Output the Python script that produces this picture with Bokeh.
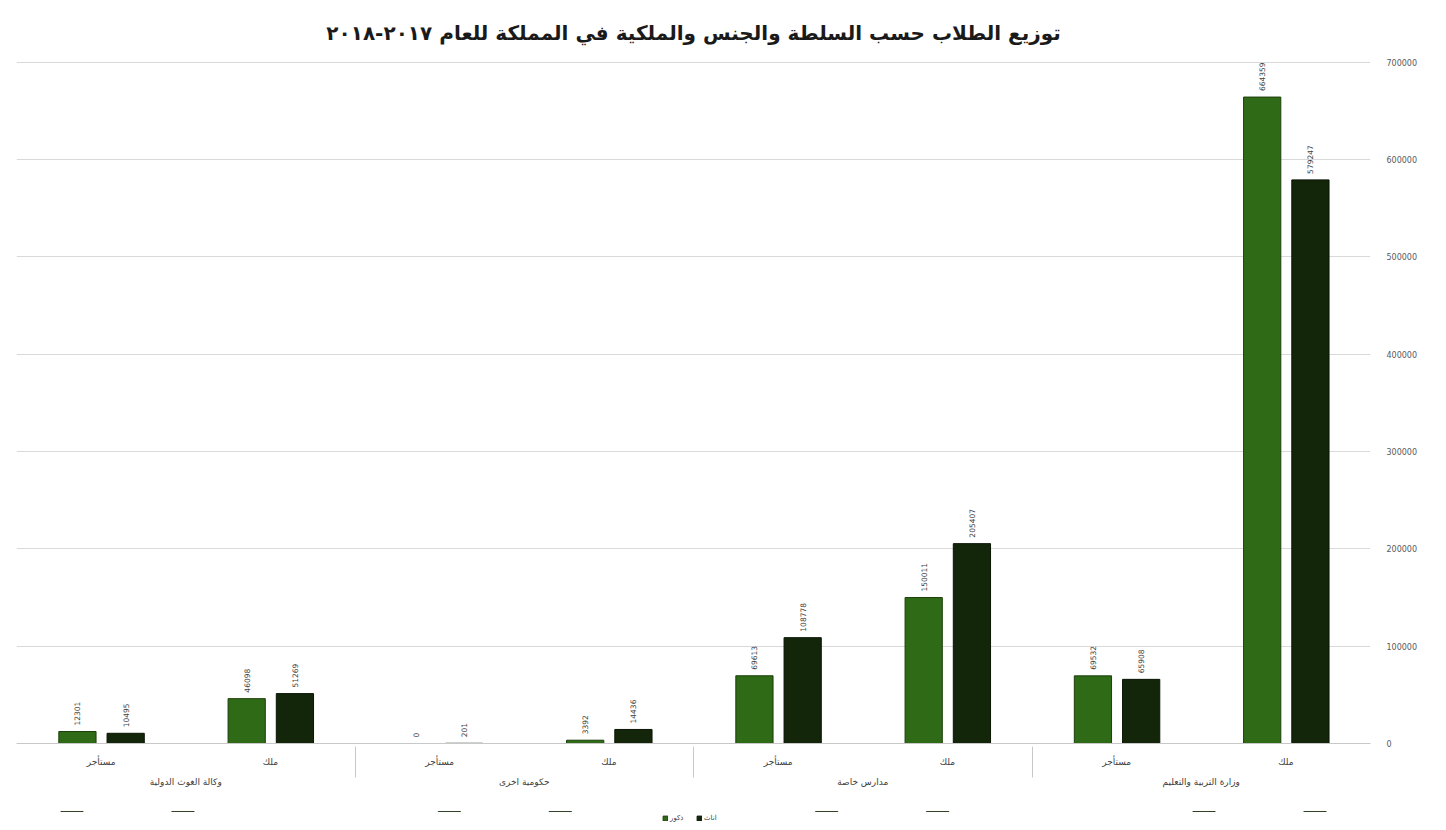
import math
from bokeh.plotting import figure
from bokeh.layouts import column
from bokeh.models import (FactorRange, ColumnDataSource, FixedTicker,
                          NumeralTickFormatter, Legend, LegendItem)
from bokeh.transform import dodge
from bokeh.core.properties import value
from bokeh.embed import file_html
from bokeh.resources import INLINE

title_text = "توزيع الطلاب حسب السلطة والجنس والملكية في المملكة للعام ٢٠١٧-٢٠١٨"
authorities = ["وكالة الغوث الدولية", "حكومية اخرى", "مدارس خاصة", "وزارة التربية والتعليم"]
ownership = ["مستأجر", "ملك"]
series_names = ["ذكور", "اناث"]
males = [12301, 46098, 0, 3392, 69613, 150011, 69532, 664359]
females = [10495, 51269, 201, 14436, 108778, 205407, 65908, 579247]
y_ticks = [0, 100000, 200000, 300000, 400000, 500000, 600000, 700000]

FONT = "DejaVu Sans"
GREEN = "#2f6a16"
GREEN_LINE = "#1c3f0b"
DARK = "#13260a"
DARK_LINE = "#0a1505"

factors = [(a, o) for a in authorities for o in ownership]
src = ColumnDataSource(dict(
    x=factors,
    m=males, f=females,
    ml=[str(v) for v in males], fl=[str(v) for v in females],
))

xr = FactorRange(*factors, group_padding=0, subgroup_padding=0, range_padding=0)
p = figure(frame_width=1354, frame_height=685, x_range=xr, y_range=(0, 704000),
           output_backend="svg", toolbar_location=None,
           y_axis_location="right", title=title_text,
           min_border_left=16, min_border_right=60, min_border_top=58,
           min_border_bottom=68)

r1 = p.vbar(x=dodge("x", -0.14, range=p.x_range), top="m", width=0.22, source=src,
            fill_color=GREEN, line_color=GREEN_LINE, line_width=1)
r2 = p.vbar(x=dodge("x", 0.145, range=p.x_range), top="f", width=0.22, source=src,
            fill_color=DARK, line_color=DARK_LINE, line_width=1)

common = dict(angle=math.pi / 2, text_align="left", text_baseline="middle",
              text_font_size="7.5px", text_color="#404040", text_font=value(FONT),
              y_offset=-6, source=src)
p.text(x=dodge("x", -0.14, range=p.x_range), y="m", text="ml", **common)
p.text(x=dodge("x", 0.145, range=p.x_range), y="f", text="fl", **common)

p.title.align = "center"
p.title.text_font = FONT
p.title.text_font_size = "20px"
p.title.text_font_style = "bold"
p.title.text_color = "#1a1a1a"
p.title.standoff = 28

p.yaxis.ticker = FixedTicker(ticks=y_ticks)
p.yaxis.formatter = NumeralTickFormatter(format="0")
p.yaxis.axis_line_color = None
p.yaxis.major_tick_line_color = None
p.yaxis.minor_tick_line_color = None
p.yaxis.major_label_text_font = FONT
p.yaxis.major_label_text_font_size = "8px"
p.yaxis.major_label_text_color = "#595959"
p.yaxis.major_label_standoff = 10

p.xaxis.axis_line_color = "#c8c8c8"
p.xaxis.major_tick_line_color = None
p.xaxis.minor_tick_line_color = None
p.xaxis.major_label_text_font = FONT
p.xaxis.major_label_text_font_size = "9px"
p.xaxis.major_label_text_color = "#404040"
p.xaxis.major_label_standoff = 7
p.xaxis.group_text_font = FONT
p.xaxis.group_text_font_size = "9px"
p.xaxis.group_text_color = "#404040"
p.xaxis.group_text_font_style = "normal"
p.xaxis.separator_line_color = "#c8c8c8"
p.xaxis.separator_line_width = 1

p.xgrid.grid_line_color = None
p.ygrid.grid_line_color = "#d9d9d9"
p.outline_line_color = None

# legend strip below the chart (its bars lie outside its visible range)
lg = figure(width=1430, height=14, output_backend="svg", toolbar_location=None,
            x_range=FactorRange(*factors), y_range=(-2, -1),
            x_axis_type=None, y_axis_type=None, min_border=0)
lg.outline_line_color = None
lg.xgrid.grid_line_color = None
lg.ygrid.grid_line_color = None
k1 = lg.vbar(x="x", top="m", bottom=0, width=0.2, source=src,
             fill_color=GREEN, line_color=GREEN_LINE)
k2 = lg.vbar(x="x", top="f", bottom=0, width=0.2, source=src,
             fill_color=DARK, line_color=DARK_LINE)
legend = Legend(items=[LegendItem(label=series_names[0], renderers=[k1]),
                       LegendItem(label=series_names[1], renderers=[k2])],
                orientation="horizontal", location="center",
                label_text_font=FONT, label_text_font_size="7px",
                label_text_color="#404040", glyph_width=6, glyph_height=6,
                label_height=8, spacing=6, padding=0, margin=0, label_standoff=2,
                border_line_color=None, background_fill_alpha=0)
lg.add_layout(legend, "center")

open("out.html", "w").write(file_html(column(p, lg, spacing=0), INLINE))
